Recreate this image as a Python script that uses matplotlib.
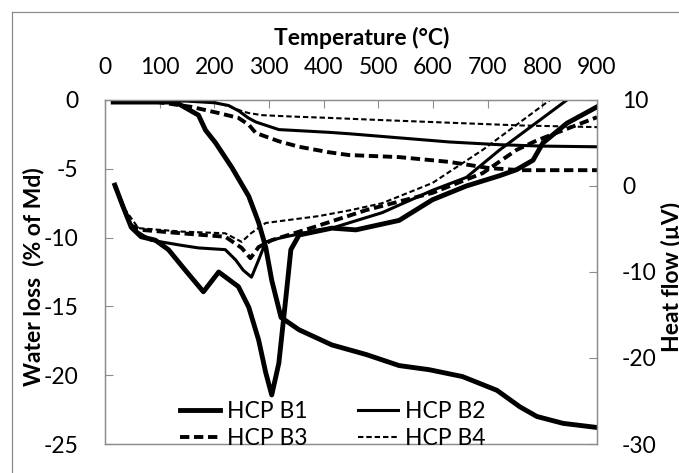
import matplotlib
matplotlib.use("Agg")
import matplotlib.pyplot as plt
from matplotlib.lines import Line2D

plt.rcParams['font.family'] = ['Lato', 'DejaVu Sans']
plt.rcParams['axes.unicode_minus'] = False

# ---- water loss (% of Md), left axis ----
t_wl_b1 = [15, 129, 171, 184, 202, 232, 263, 281, 294, 305, 322, 355, 415, 478, 538, 593, 654, 717, 759, 790, 838, 900]
wl_b1 = [-0.15, -0.15, -1.1, -2.2, -3.1, -4.9, -7.0, -8.9, -10.7, -13.1, -15.8, -16.7, -17.8, -18.5, -19.3, -19.6,
         -20.1, -21.1, -22.3, -23.0, -23.5, -23.8]

t_wl_b2 = [15, 150, 200, 226, 245, 262, 276, 318, 410, 446, 538, 630, 722, 800, 900]
wl_b2 = [-0.05, -0.08, -0.2, -0.4, -0.8, -1.3, -1.6, -2.15, -2.35, -2.45, -2.75, -3.05, -3.25, -3.35, -3.4]

t_wl_b3 = [15, 97, 158, 208, 244, 263, 276, 318, 355, 410, 446, 538, 630, 703, 760, 900]
wl_b3 = [-0.07, -0.15, -0.5, -0.95, -1.3, -1.8, -2.4, -3.0, -3.4, -3.8, -4.0, -4.15, -4.5, -4.95, -5.1, -5.1]

t_wl_b4 = [15, 150, 200, 226, 250, 263, 287, 340, 410, 500, 630, 760, 875, 900]
wl_b4 = [-0.05, -0.07, -0.15, -0.45, -0.8, -0.95, -1.1, -1.2, -1.3, -1.45, -1.65, -1.85, -1.95, -1.97]

# ---- heat flow (uV), right axis ----
t_hf_b1 = [18, 33, 48, 66, 92, 116, 147, 180, 208, 244, 263, 281, 294, 305, 318, 331, 340, 355, 415, 459,
           538, 599, 661, 722, 753, 783, 801, 845, 900]
hf_b1 = [0.1, -2.4, -4.8, -5.9, -6.3, -7.4, -9.8, -12.3, -10.0, -11.7, -14.1, -17.9, -21.7, -24.3, -20.6, -12.9,
         -7.4, -5.7, -4.9, -5.1, -4.0, -1.6, 0.0, 1.2, 1.9, 3.0, 5.0, 7.3, 9.2]

t_hf_b2 = [18, 33, 51, 84, 140, 171, 220, 239, 253, 268, 281, 294, 323, 391, 415, 507, 599, 661, 722, 845, 900]
hf_b2 = [0.1, -2.4, -5.0, -6.3, -6.9, -7.2, -7.4, -8.6, -9.8, -10.6, -8.6, -6.5, -6.0, -5.1, -4.9, -3.1, -0.5,
         1.0, 4.2, 10.0, 13.0]

t_hf_b3 = [18, 33, 48, 66, 140, 220, 250, 266, 281, 305, 386, 478, 599, 691, 753, 790, 900]
hf_b3 = [0.1, -2.4, -4.6, -5.1, -5.5, -5.9, -7.2, -8.4, -7.1, -6.3, -4.7, -2.8, -0.8, 1.5, 4.2, 5.3, 8.0]

t_hf_b4 = [18, 33, 61, 140, 220, 250, 267, 294, 330, 391, 450, 507, 599, 691, 814, 900]
hf_b4 = [0.1, -2.4, -4.9, -5.3, -5.5, -6.5, -5.5, -4.3, -4.0, -3.5, -2.8, -2.0, 0.35, 4.2, 10.0, 13.5]

labels = ["HCP B1", "HCP B2", "HCP B3", "HCP B4"]
x_ticks = [0, 100, 200, 300, 400, 500, 600, 700, 800, 900]
wl_ticks = [0, -5, -10, -15, -20, -25]
hf_ticks = [10, 0, -10, -20, -30]

GREY = '#8c8c8c'
FS = 16.5

styles = [
    dict(color='black', lw=3.5, ls='-'),
    dict(color='black', lw=2.2, ls='-'),
    dict(color='black', lw=2.8, ls=(0, (2.4, 1.2))),
    dict(color='black', lw=1.5, ls=(0, (2.6, 1.4))),
]

fig = plt.figure(figsize=(6.79, 4.73), dpi=100)
ax = fig.add_axes([105 / 679, 1 - 444 / 473, 492 / 679, 344 / 473])
ax2 = ax.twinx()

wl_data = [(t_wl_b1, wl_b1), (t_wl_b2, wl_b2), (t_wl_b3, wl_b3), (t_wl_b4, wl_b4)]
hf_data = [(t_hf_b1, hf_b1), (t_hf_b2, hf_b2), (t_hf_b3, hf_b3), (t_hf_b4, hf_b4)]

handles = []
for (t, w), st, lab in zip(wl_data, styles, labels):
    h, = ax.plot(t, w, label=lab, solid_joinstyle='round', dash_capstyle='butt', **st)
    handles.append(h)
for (t, hf), st in zip(hf_data, styles):
    ax2.plot(t, hf, solid_joinstyle='round', dash_capstyle='butt', **st)

ax.set_xlim(0, 900)
ax.set_ylim(-25, 0)
ax2.set_ylim(-30, 10)

ax.set_xticks(x_ticks)
ax.set_yticks(wl_ticks)
ax2.set_yticks(hf_ticks)

ax.xaxis.tick_top()
ax.tick_params(axis='x', direction='in', length=6, width=0.8, color=GREY,
               labelsize=FS, pad=16, top=True, bottom=False, labeltop=True, labelbottom=False)
ax.tick_params(axis='y', direction='in', length=6, width=0.8, color=GREY, labelsize=FS, pad=19)
ax2.tick_params(axis='y', direction='in', length=6, width=0.8, color=GREY, labelsize=FS, pad=18)
ax2.tick_params(axis='x', top=False, bottom=False, labeltop=False, labelbottom=False)

for a in (ax, ax2):
    for s in a.spines.values():
        s.set_color(GREY)
        s.set_linewidth(0.9)

fig.text(362 / 679, 1 - 45 / 473, "Temperature (°C)", ha='center', va='baseline',
         fontsize=FS, fontweight='bold')
fig.text(40 / 679, 1 - 277 / 473, "Water loss  (% of Md)", rotation=90, rotation_mode='anchor',
         ha='center', va='baseline', fontsize=FS, fontweight='bold')
fig.text(679 / 679, 1 - 277 / 473, "Heat flow (µV)", rotation=90, rotation_mode='anchor',
         ha='center', va='baseline', fontsize=FS, fontweight='bold')

order = [0, 2, 1, 3]
ax2.legend([handles[i] for i in order], [labels[i] for i in order], ncol=2, frameon=False,
           loc='center', bbox_to_anchor=(333 / 679, 1 - 425 / 473), bbox_transform=fig.transFigure,
           fontsize=FS, handlelength=1.75, handletextpad=0.3, columnspacing=2.2,
           labelspacing=0.27, borderpad=0, borderaxespad=0)

# chart area border (only left and top edges fall inside the image)
fig.add_artist(Line2D([12 / 679, 12 / 679], [0, 1 - 12 / 473], color=GREY, lw=0.9))
fig.add_artist(Line2D([12 / 679, 1], [1 - 12 / 473, 1 - 12 / 473], color=GREY, lw=0.9))

fig.savefig("out.png", dpi=100)
